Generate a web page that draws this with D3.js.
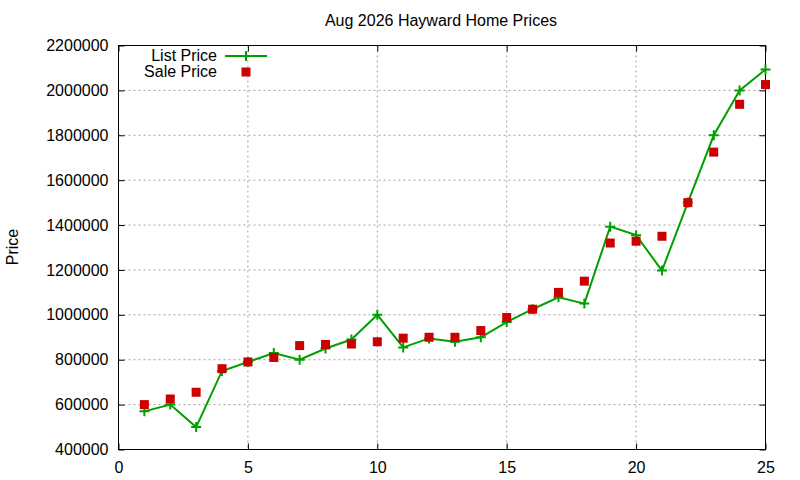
<!DOCTYPE html>
<html>
  <head>
    <script src="https://d3js.org/d3.v7.min.js"></script>
    <style>
    body { margin: 0; background: #fff; }
    text { font-family: "Liberation Sans", Arial, sans-serif; font-size: 16px; fill: #000; }
    .grid line { stroke: #a0a0a0; stroke-width: 1; stroke-dasharray: 2,3; }
    </style>
  </head>
  <body>
    <script>

    // chart data
    var months = [1, 2, 3, 4, 5, 6, 7, 8, 9, 10, 11, 12, 13, 14, 15, 16, 17, 18, 19, 20, 21, 22, 23, 24, 25];
    var listPrice = [570000, 600000, 500000, 750000, 790000, 830000, 800000, 850000, 890000, 1000000,
                     855000, 895000, 880000, 900000, 968000, 1025000, 1078000, 1050000, 1393000, 1355000,
                     1197000, 1500000, 1800000, 2000000, 2093000];
    var salePrice = [600000, 625000, 655000, 760000, 790000, 810000, 863000, 868000, 870000, 880000,
                     896000, 900000, 900000, 930000, 988000, 1025000, 1100000, 1150000, 1320000, 1328000,
                     1350000, 1500000, 1725000, 1938000, 2026000];
    var xTicks = [0, 5, 10, 15, 20, 25];
    var yTicks = [400000, 600000, 800000, 1000000, 1200000, 1400000, 1600000, 1800000, 2000000, 2200000];

    var w = 800, h = 480;
    var padLeft = 118.5, padRight = 765.5, padTop = 45.5, padBottom = 449.5;

    var svg = d3.select("body").append("svg")
      .attr("width", w)
      .attr("height", h);

    var x = d3.scaleLinear().domain([0, 25]).range([padLeft, padRight]);
    var y = d3.scaleLinear().domain([400000, 2200000]).range([padBottom, padTop]);

    // grid lines (skip the ones on the border)
    var grid = svg.append("g").attr("class", "grid");
    grid.selectAll(".gx")
      .data(xTicks.filter(function(d) { return d > 0 && d < 25; }))
      .enter().append("line")
      .attr("x1", function(d) { return x(d); })
      .attr("x2", function(d) { return x(d); })
      .attr("y1", padTop).attr("y2", padBottom);
    grid.selectAll(".gy")
      .data(yTicks.filter(function(d) { return d > 400000 && d < 2200000; }))
      .enter().append("line")
      .attr("y1", function(d) { return y(d); })
      .attr("y2", function(d) { return y(d); })
      .attr("x1", padLeft).attr("x2", padRight);

    // inward ticks on all four sides
    function ticks(axis, sel) {
      sel.call(axis);
      sel.select(".domain").remove();
      sel.selectAll("line").attr("stroke", "#000");
    }
    var fmt = d3.format("d");
    var bottomAxis = svg.append("g").attr("transform", "translate(0," + padBottom + ")");
    ticks(d3.axisBottom(x).tickValues(xTicks).tickFormat(fmt).tickSizeInner(-6).tickPadding(12), bottomAxis);
    bottomAxis.selectAll("text").style("font-size", "16px").attr("fill", "#000");
    var leftAxis = svg.append("g").attr("transform", "translate(" + padLeft + ",0)");
    ticks(d3.axisLeft(y).tickValues(yTicks).tickFormat(fmt).tickSizeInner(-6).tickPadding(10), leftAxis);
    leftAxis.selectAll("text").style("font-size", "16px").attr("fill", "#000");
    var topAxis = svg.append("g").attr("transform", "translate(0," + padTop + ")");
    ticks(d3.axisTop(x).tickValues(xTicks).tickFormat("").tickSizeInner(-6), topAxis);
    var rightAxis = svg.append("g").attr("transform", "translate(" + padRight + ",0)");
    ticks(d3.axisRight(y).tickValues(yTicks).tickFormat("").tickSizeInner(-6), rightAxis);

    // border
    svg.append("rect")
      .attr("x", padLeft).attr("y", padTop)
      .attr("width", padRight - padLeft).attr("height", padBottom - padTop)
      .attr("fill", "none").attr("stroke", "#000").attr("stroke-width", 1);

    // list price line
    var line = d3.line()
      .x(function(d, i) { return x(months[i]); })
      .y(function(d) { return y(d); });
    svg.append("path")
      .datum(listPrice)
      .attr("d", line)
      .attr("fill", "none")
      .attr("stroke", "#00a000")
      .attr("stroke-width", 2);

    function plus(g, cx, cy) {
      g.append("path")
        .attr("d", "M" + (cx - 5) + "," + cy + "H" + (cx + 5) + "M" + cx + "," + (cy - 5) + "V" + (cy + 5))
        .attr("stroke", "#00a000").attr("stroke-width", 2).attr("fill", "none");
    }
    var pts = svg.append("g");
    listPrice.forEach(function(d, i) { plus(pts, x(months[i]), y(d)); });

    // sale price squares
    svg.append("g").selectAll("rect")
      .data(salePrice)
      .enter().append("rect")
      .attr("x", function(d, i) { return x(months[i]) - 4.5; })
      .attr("y", function(d) { return y(d) - 4.5; })
      .attr("width", 9).attr("height", 9)
      .attr("fill", "#cc0000");

    // legend
    var legend = svg.append("g");
    legend.append("text").attr("x", 217).attr("y", 61).attr("text-anchor", "end").text("List Price");
    legend.append("line").attr("x1", 225).attr("x2", 267).attr("y1", 56).attr("y2", 56)
      .attr("stroke", "#00a000").attr("stroke-width", 2);
    plus(legend, 246, 56);
    legend.append("text").attr("x", 217).attr("y", 77).attr("text-anchor", "end").text("Sale Price");
    legend.append("rect").attr("x", 241.5).attr("y", 67.5).attr("width", 9).attr("height", 9)
      .attr("fill", "#cc0000");

    // title and axis label
    svg.append("text")
      .attr("x", 441).attr("y", 26)
      .attr("text-anchor", "middle")
      .text("Aug 2026 Hayward Home Prices");
    svg.append("text")
      .attr("transform", "translate(18,247) rotate(-90)")
      .attr("text-anchor", "middle")
      .text("Price");

    </script>
  </body>
</html>
